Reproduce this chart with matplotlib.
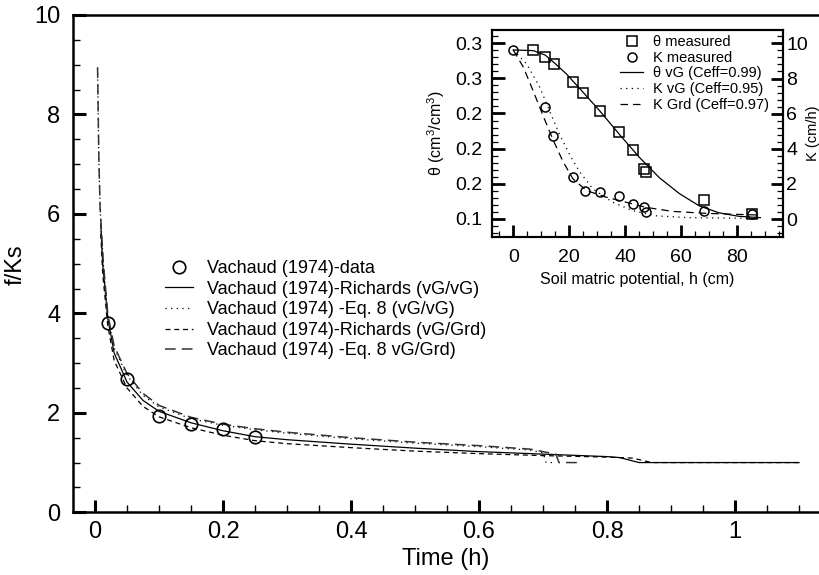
import matplotlib
matplotlib.use("Agg")
import matplotlib.pyplot as plt
from matplotlib.ticker import MultipleLocator, FormatStrFormatter, FixedLocator
from matplotlib.lines import Line2D

plt.rcParams['font.family'] = ['Liberation Sans', 'DejaVu Sans']
plt.rcParams['mathtext.fontset'] = 'custom'
plt.rcParams['mathtext.rm'] = 'Liberation Sans'

# main chart: infiltration rate f/Ks vs time
t_data = [0.02, 0.05, 0.10, 0.15, 0.20, 0.25]
f_data = [3.80, 2.68, 1.94, 1.77, 1.67, 1.51]

t_rich_vg = [0.009, 0.012, 0.02, 0.03, 0.05, 0.075, 0.10, 0.15, 0.20, 0.25, 0.30, 0.40, 0.50, 0.60, 0.70, 0.80, 0.82, 0.85, 1.10]
f_rich_vg = [5.80, 5.00, 3.90, 3.20, 2.62, 2.25, 2.03, 1.80, 1.64, 1.52, 1.46, 1.37, 1.29, 1.22, 1.17, 1.12, 1.10, 1.00, 1.00]

t_eq8_vg = [0.004, 0.006, 0.008, 0.013, 0.02, 0.03, 0.05, 0.075, 0.10, 0.15, 0.20, 0.25, 0.30, 0.40, 0.50, 0.60, 0.68, 0.70, 0.705, 0.72]
f_eq8_vg = [8.93, 7.10, 6.10, 5.00, 3.95, 3.30, 2.75, 2.35, 2.12, 1.88, 1.75, 1.66, 1.59, 1.48, 1.39, 1.32, 1.25, 1.20, 1.00, 1.00]

t_rich_grd = [0.009, 0.012, 0.02, 0.03, 0.05, 0.075, 0.10, 0.15, 0.20, 0.25, 0.30, 0.40, 0.50, 0.60, 0.70, 0.80, 0.84, 0.87, 1.10]
f_rich_grd = [5.60, 4.80, 3.75, 3.05, 2.50, 2.13, 1.92, 1.70, 1.55, 1.44, 1.38, 1.30, 1.23, 1.18, 1.14, 1.11, 1.09, 1.00, 1.00]

t_eq8_grd = [0.004, 0.006, 0.008, 0.013, 0.02, 0.03, 0.05, 0.075, 0.10, 0.15, 0.20, 0.25, 0.30, 0.40, 0.50, 0.60, 0.68, 0.72, 0.725, 0.76]
f_eq8_grd = [8.95, 7.12, 6.12, 5.03, 3.98, 3.34, 2.79, 2.39, 2.15, 1.91, 1.77, 1.68, 1.61, 1.50, 1.41, 1.34, 1.27, 1.17, 1.00, 1.00]

# inset: retention and conductivity
h_theta = [7.2, 11.4, 14.6, 21.5, 25.0, 30.9, 37.7, 42.8, 46.6, 47.5, 68.3, 85.4]
theta_meas = [0.3123, 0.3038, 0.2962, 0.2758, 0.2635, 0.2431, 0.2188, 0.1981, 0.1765, 0.1738, 0.1419, 0.1254]
h_k = [0.0, 11.3, 14.3, 21.2, 25.6, 30.9, 37.7, 42.8, 46.6, 47.5, 68.3, 85.4]
k_meas = [9.62, 6.38, 4.71, 2.40, 1.58, 1.54, 1.31, 0.88, 0.69, 0.38, 0.48, 0.27]

h_theta_vg = [0.0, 7.2, 11.4, 14.9, 19.0, 25.0, 30.9, 38.0, 45.1, 52.2, 59.3, 66.4, 73.5, 80.6, 88.3]
theta_vg = [0.3123, 0.3115, 0.3065, 0.2970, 0.2850, 0.2640, 0.2430, 0.2160, 0.1900, 0.1670, 0.1490, 0.1350, 0.1270, 0.1230, 0.1215]
h_k_vg = [0.0, 4.7, 9.5, 13.0, 16.6, 20.2, 23.7, 28.4, 35.5, 42.7, 51.0, 62.8, 88.3]
k_vg = [9.62, 8.85, 7.50, 6.15, 4.80, 3.65, 2.70, 1.73, 0.96, 0.48, 0.19, 0.08, 0.04]
h_k_grd = [0.0, 3.6, 7.1, 10.7, 14.2, 17.8, 21.3, 26.1, 33.2, 40.3, 47.4, 56.9, 68.7, 88.3]
k_grd = [9.62, 8.65, 7.30, 5.87, 4.52, 3.27, 2.30, 1.63, 1.25, 0.96, 0.67, 0.44, 0.33, 0.23]

fig = plt.figure(figsize=(8.19, 5.75), dpi=100)
ax = fig.add_axes([73 / 819, 62.7 / 575, 746 / 819, 497.3 / 575])

ax.plot(t_rich_vg, f_rich_vg, color='black', lw=0.9, ls='-', label='Vachaud (1974)-Richards (vG/vG)')
ax.plot(t_eq8_vg, f_eq8_vg, color='black', lw=0.9, ls=(0, (1, 3.5)), label='Vachaud (1974) -Eq. 8 (vG/vG)')
ax.plot(t_rich_grd, f_rich_grd, color='black', lw=0.9, ls=(0, (4, 3)), label='Vachaud (1974)-Richards (vG/Grd)')
ax.plot(t_eq8_grd, f_eq8_grd, color='#333333', lw=1.1, ls=(0, (7, 4)), label='Vachaud (1974) -Eq. 8 vG/Grd)')
ax.plot(t_data, f_data, ls='none', marker='o', ms=9, mfc='none', mec='black', mew=1.2,
        label='Vachaud (1974)-data')

ax.set_xlim(-22 / 640, 724 / 640)
ax.set_ylim(0, 10)
ax.xaxis.set_major_locator(FixedLocator([0, 0.2, 0.4, 0.6, 0.8, 1.0]))
ax.xaxis.set_major_formatter(FormatStrFormatter('%g'))
ax.xaxis.set_minor_locator(MultipleLocator(0.05))
ax.yaxis.set_major_locator(MultipleLocator(2))
ax.yaxis.set_minor_locator(MultipleLocator(0.5))
ax.tick_params(which='major', direction='in', length=9, width=2.2, labelsize=17, pad=6)
ax.tick_params(which='minor', direction='in', length=5, width=1)
ax.tick_params(axis='y', which='major', pad=9)
for s in ['left', 'bottom', 'top']:
    ax.spines[s].set_linewidth(1.8)
ax.spines['right'].set_visible(False)
ax.set_xlabel('Time (h)', fontsize=17, labelpad=4)
ax.set_ylabel('f/Ks', fontsize=17)
ax.yaxis.set_label_coords(-0.062, 0.497)

handles, labels = ax.get_legend_handles_labels()
order = [4, 0, 1, 2, 3]
ax.legend([handles[i] for i in order], [labels[i] for i in order],
          loc='upper left', bbox_to_anchor=(165 / 819, 1 - 260 / 575), bbox_transform=fig.transFigure,
          frameon=False, fontsize=13, borderpad=0, borderaxespad=0, handlelength=1.55,
          handletextpad=0.8, labelspacing=0.2)

# inset
ins = fig.add_axes([491.7 / 819, 1 - 236.7 / 575, 291.6 / 819, 206.7 / 575])
ins2 = ins.twinx()
ins.plot(h_theta_vg, theta_vg, color='black', lw=0.9, ls='-')
ins.plot(h_theta, theta_meas, ls='none', marker='s', ms=6.5, mfc='none', mec='black', mew=1.1)
ins2.plot(h_k_vg, k_vg, color='black', lw=0.9, ls=(0, (1, 3.5)))
ins2.plot(h_k_grd, k_grd, color='black', lw=0.9, ls=(0, (6, 4)))
ins2.plot(h_k, k_meas, ls='none', marker='o', ms=6.5, mfc='none', mec='black', mew=1.1)

ins.set_xlim(-7.7, 96.5)
ins.set_ylim(0.0998, 0.335)
ins2.set_ylim(-1.0, 10.76)
ins.xaxis.set_major_locator(MultipleLocator(20))
ins.xaxis.set_minor_locator(MultipleLocator(5))
ins.yaxis.set_major_locator(FixedLocator([0.12, 0.16, 0.20, 0.24, 0.28, 0.32]))
ins.yaxis.set_major_formatter(FormatStrFormatter('%.1f'))
ins.yaxis.set_minor_locator(MultipleLocator(0.008))
ins2.yaxis.set_major_locator(MultipleLocator(2))
ins2.yaxis.set_minor_locator(MultipleLocator(0.4))
for a in (ins, ins2):
    a.tick_params(which='major', direction='in', length=9, width=2, labelsize=14)
    a.tick_params(which='minor', direction='in', length=4, width=0.9)
    for s in a.spines.values():
        s.set_linewidth(1.5)
ins.tick_params(axis='y', which='major', pad=7)
ins2.tick_params(axis='y', which='major', pad=2)
ins.tick_params(axis='x', which='major', pad=9)
ins.set_xlabel('Soil matric potential, h (cm)', fontsize=11.5, labelpad=4)
ins.set_ylabel(r'θ (cm$^3$/cm$^3$)', fontsize=11.5)
ins.yaxis.set_label_coords(-0.155, 0.5)
ins2.set_ylabel('K (cm/h)', fontsize=10.5)
ins2.yaxis.set_label_coords(1.077, 0.5)

inset_handles = [
    Line2D([], [], ls='none', marker='s', ms=6.5, mfc='none', mec='black', mew=1.1),
    Line2D([], [], ls='none', marker='o', ms=6.5, mfc='none', mec='black', mew=1.1),
    Line2D([], [], color='black', lw=0.9, ls='-'),
    Line2D([], [], color='black', lw=0.9, ls=(0, (1, 3.5))),
    Line2D([], [], color='black', lw=0.9, ls=(0, (6, 4))),
]
inset_labels = ['θ measured', 'K measured', 'θ vG (Ceff=0.99)', 'K vG (Ceff=0.95)', 'K Grd (Ceff=0.97)']
ins2.legend(inset_handles, inset_labels, loc='upper left', bbox_to_anchor=(620 / 819, 1 - 35 / 575),
            bbox_transform=fig.transFigure, frameon=False, fontsize=10.5, borderpad=0, borderaxespad=0,
            handlelength=1.6, handletextpad=0.65, labelspacing=0.12)

fig.savefig('out.png', dpi=100)
